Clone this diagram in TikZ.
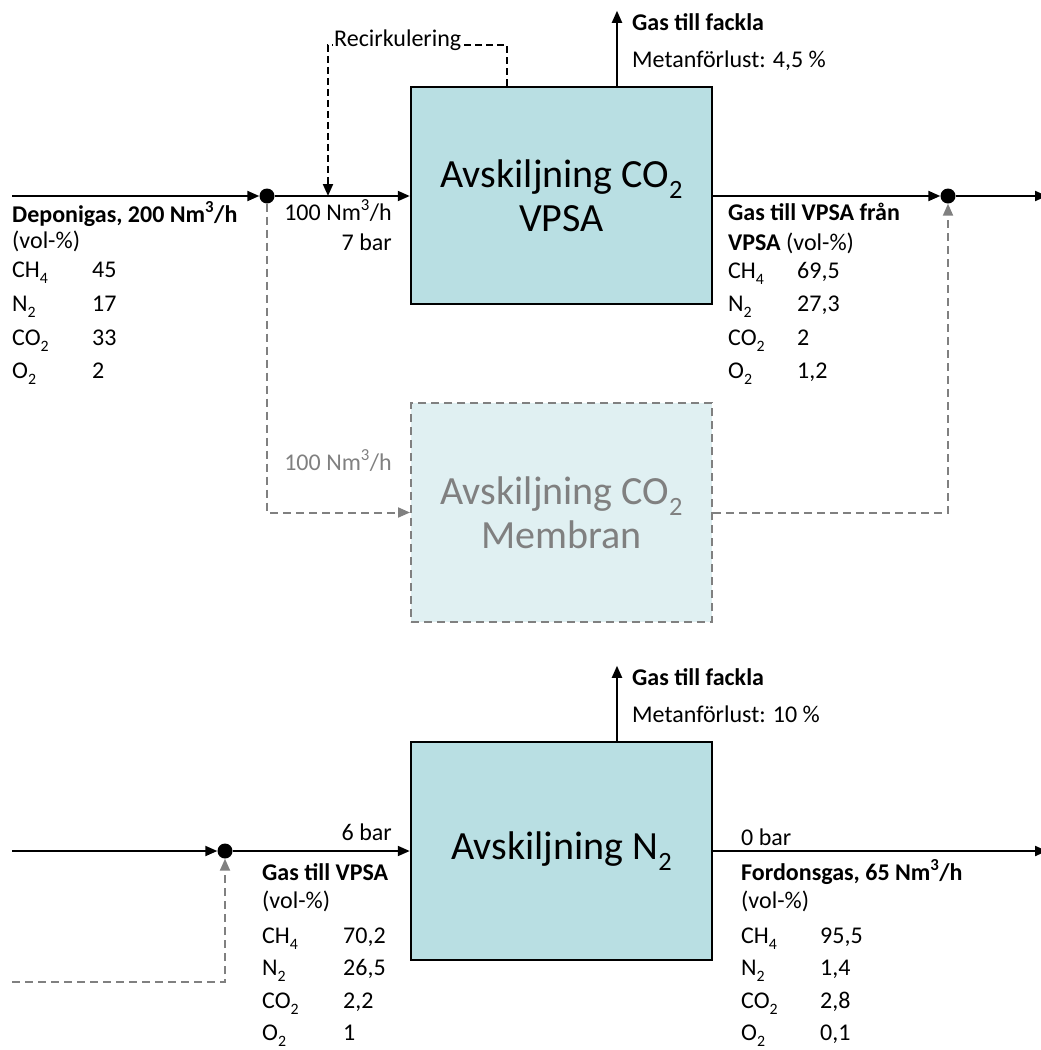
\documentclass[tikz,border=0pt]{standalone}
\usepackage{fontspec}
\usepackage{graphicx}
\setmainfont{Carlito}
\usetikzlibrary{arrows.meta}
\definecolor{boxfill}{RGB}{185,223,227}
\definecolor{memfill}{RGB}{224,240,242}
\definecolor{gr}{RGB}{128,128,128}
\newcommand\lsub[1]{\raisebox{-0.28em}{\scalebox{0.66}{#1}}}
\begin{document}
\begin{tikzpicture}[x=1pt,y=-1pt,
  flow/.style={line width=2pt,-{Triangle[length=12pt,width=10pt]}},
  dflow/.style={flow,dash pattern=on 7pt off 4pt},
  gflow/.style={flow,gr,dash pattern=on 8pt off 5pt},
  proc/.style={draw,line width=2.5pt,fill=boxfill,minimum width=301pt,inner sep=0pt,align=center,font=\fontsize{40}{44}\selectfont},
  dotn/.style={circle,fill,inner sep=0pt,minimum size=15pt},
  txt/.style={inner sep=0pt,anchor=base west,font=\fontsize{24}{28}\selectfont},
  txte/.style={txt,anchor=base east},
  bt/.style={txt,font=\fontsize{24}{28}\selectfont\bfseries}]
\useasboundingbox (0,0) rectangle (1041,1050);

% ---------- boxes
\node[proc,minimum height=217pt] (vpsa) at (561.5,195.5) {Avskiljning CO\lsub{2}\\VPSA};
\node[proc,minimum height=219pt,fill=memfill,draw=gr,text=gr,line width=2pt,dash pattern=on 8pt off 5pt] (mem) at (561.5,512.5) {Avskiljning CO\lsub{2}\\Membran};
\node[proc,minimum height=218pt] (ntwo) at (561.5,851) {Avskiljning N\lsub{2}};

% ---------- dots and free ends
\node[dotn] (d1) at (267,196) {};
\node[dotn] (d2) at (948,196) {};
\node[dotn] (d3) at (225,851) {};
\coordinate (in1) at (12,196);
\coordinate (out1) at (1047,196);
\coordinate (rce) at (328,196);
\coordinate (in2) at (12,851);
\coordinate (gin) at (12,982);
\coordinate (out2) at (1047,851);

% ---------- upper connectors
\draw[flow] (in1) -- (d1);
\draw[flow] (d1) -- (d1 -| vpsa.west);
\draw[dflow] ([xshift=-54.5pt]vpsa.north) -- ++(0,-41) -| (rce);
\node[txt,fill=white,inner sep=1pt] (recl) at (333,46) {Recirkulering};
\draw[flow] ([xshift=55.5pt]vpsa.north) -- ++(0,-75);
\draw[flow] (vpsa.east |- d2) -- (d2);
\draw[flow] (d2) -- (out1);
\draw[gflow] (d1) |- (mem.west);
\draw[gflow] (mem.east) -| (d2);

% ---------- lower connectors
\draw[flow] (in2) -- (d3);
\draw[flow] (d3) -- (d3 -| ntwo.west);
\draw[gflow] (gin) -| (d3);
\draw[flow] ([xshift=55.5pt]ntwo.north) -- ++(0,-75);
\draw[flow] (ntwo.east |- d3) -- (out2);

% ---------- top labels
\node[bt] (f1a) at (632,30) {Gas till fackla};
\node[txt] (f1b) at (632,67) {Metanförlust: 4,5 \%};

\node[bt] (tl0) at (12,222) {Deponigas, 200 Nm\textsuperscript{3}/h};
\node[txt] (tl1) at (12,248) {(vol-\%)};
\node[txt] (tl2) at (12,277) {CH\lsub{4}};
\node[txt] (tl2v) at (92,277) {45};
\node[txt] (tl3) at (12,311) {N\lsub{2}};
\node[txt] (tl3v) at (92,311) {17};
\node[txt] (tl4) at (12,345) {CO\lsub{2}};
\node[txt] (tl4v) at (92,345) {33};
\node[txt] (tl5) at (12,378) {O\lsub{2}};
\node[txt] (tl5v) at (92,378) {2};

\node[txte] (fl1) at (392,220) {100 Nm\textsuperscript{3}/h};
\node[txte] (pr1) at (392,250) {7 bar};
\node[txte,text=gr] (fl2) at (392,470) {100 Nm\textsuperscript{3}/h};

\node[bt] (tr0) at (728,220) {Gas till VPSA från};
\node[txt] (tr1) at (728,250) {\textbf{VPSA} (vol-\%)};
\node[txt] (tr2) at (728,278) {CH\lsub{4}};
\node[txt] (tr2v) at (797,278) {69,5};
\node[txt] (tr3) at (728,311) {N\lsub{2}};
\node[txt] (tr3v) at (797,311) {27,3};
\node[txt] (tr4) at (728,345) {CO\lsub{2}};
\node[txt] (tr4v) at (797,345) {2};
\node[txt] (tr5) at (728,378) {O\lsub{2}};
\node[txt] (tr5v) at (797,378) {1,2};

% ---------- bottom labels
\node[bt] (f2a) at (632,685) {Gas till fackla};
\node[txt] (f2b) at (632,722) {Metanförlust: 10 \%};

\node[txte] (pr2) at (392,840) {6 bar};
\node[txt] (pr3) at (741,845) {0 bar};

\node[bt] (bl0) at (262,880) {Gas till VPSA};
\node[txt] (bl1) at (262,908) {(vol-\%)};
\node[txt] (bl2) at (262,943) {CH\lsub{4}};
\node[txt] (bl2v) at (343,943) {70,2};
\node[txt] (bl3) at (262,975) {N\lsub{2}};
\node[txt] (bl3v) at (343,975) {26,5};
\node[txt] (bl4) at (262,1008) {CO\lsub{2}};
\node[txt] (bl4v) at (343,1008) {2,2};
\node[txt] (bl5) at (262,1040) {O\lsub{2}};
\node[txt] (bl5v) at (343,1040) {1};

\node[bt] (br0) at (741,880) {Fordonsgas, 65 Nm\textsuperscript{3}/h};
\node[txt] (br1) at (741,908) {(vol-\%)};
\node[txt] (br2) at (741,943) {CH\lsub{4}};
\node[txt] (br2v) at (820,943) {95,5};
\node[txt] (br3) at (741,975) {N\lsub{2}};
\node[txt] (br3v) at (820,975) {1,4};
\node[txt] (br4) at (741,1008) {CO\lsub{2}};
\node[txt] (br4v) at (820,1008) {2,8};
\node[txt] (br5) at (741,1040) {O\lsub{2}};
\node[txt] (br5v) at (820,1040) {0,1};
\end{tikzpicture}
\end{document}
